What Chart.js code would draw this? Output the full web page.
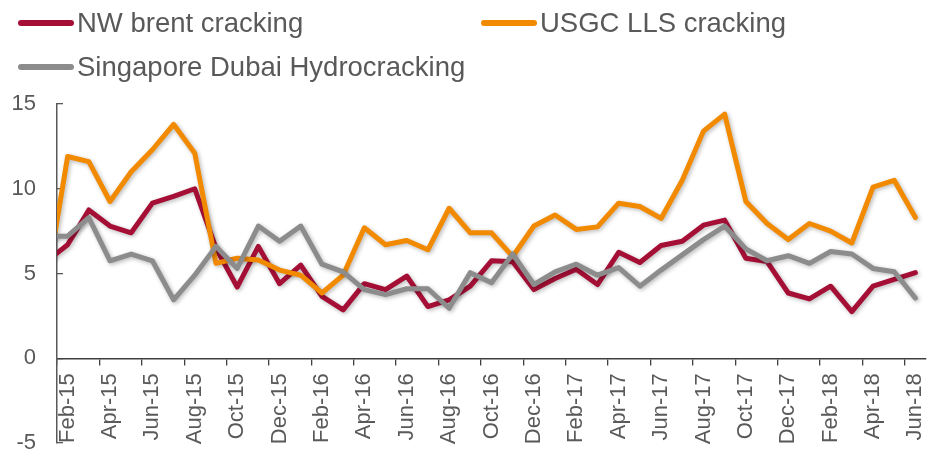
<!DOCTYPE html>
<html>
<head>
<meta charset="utf-8">
<script src="https://cdn.jsdelivr.net/npm/chart.js@4.4.1/dist/chart.umd.min.js"></script>
<style>
  body { margin: 0; background: #fff; }
  #wrap { position: relative; width: 932px; height: 456px; font-family: "Liberation Sans", Arial, sans-serif; }
  #grafico { position: absolute; left: 0; top: 0; }
  .ley-item { position: absolute; display: flex; align-items: center; color: #595959; font-size: 27.5px; white-space: nowrap; }
  .ley-barra { width: 56px; height: 6px; border-radius: 3px; margin-right: 3px; }
</style>
</head>
<body>
<div id="wrap">
  <canvas id="grafico" width="932" height="456"></canvas>
  <div id="leyenda"></div>
</div>
<script>
// meses (Jan-15 solo asoma recortado en el borde izquierdo)
const meses = ['Jan-15','Feb-15','Mar-15','Apr-15','May-15','Jun-15','Jul-15','Aug-15','Sep-15','Oct-15','Nov-15','Dec-15',
  'Jan-16','Feb-16','Mar-16','Apr-16','May-16','Jun-16','Jul-16','Aug-16','Sep-16','Oct-16','Nov-16','Dec-16',
  'Jan-17','Feb-17','Mar-17','Apr-17','May-17','Jun-17','Jul-17','Aug-17','Sep-17','Oct-17','Nov-17','Dec-17',
  'Jan-18','Feb-18','Mar-18','Apr-18','May-18','Jun-18'];

const nwBrent = [5.7, 6.7, 8.75, 7.8, 7.4, 9.15, 9.55, 10.0, 6.5, 4.2, 6.6, 4.4, 5.5, 3.65, 2.85, 4.4, 4.05, 4.85, 3.05, 3.45,
  4.25, 5.75, 5.7, 4.05, 4.7, 5.25, 4.35, 6.25, 5.65, 6.65, 6.9, 7.85, 8.15, 5.9, 5.7, 3.85, 3.5, 4.25, 2.75, 4.25, 4.65, 5.05];
const usgcLls = [4.3, 11.9, 11.6, 9.25, 11.0, 12.3, 13.8, 12.1, 5.6, 5.9, 5.8, 5.2, 4.9, 3.85, 4.9, 7.7, 6.7, 6.95, 6.4, 8.85,
  7.4, 7.4, 6.0, 7.8, 8.45, 7.6, 7.75, 9.15, 8.95, 8.25, 10.5, 13.4, 14.4, 9.25, 7.95, 7.0, 7.95, 7.5, 6.8, 10.1, 10.5, 8.3];
const singapur = [7.2, 7.2, 8.3, 5.75, 6.15, 5.75, 3.45, 4.9, 6.6, 5.3, 7.8, 6.9, 7.8, 5.55, 5.1, 4.05, 3.75, 4.1, 4.1, 2.95,
  5.05, 4.45, 6.15, 4.35, 5.1, 5.55, 4.9, 5.35, 4.25, 5.2, 6.1, 7.0, 7.8, 6.45, 5.75, 6.05, 5.6, 6.3, 6.15, 5.3, 5.1, 3.55];

const series = ['NW brent cracking', 'USGC LLS cracking', 'Singapore Dubai Hydrocracking'];
const colores = ['#A50F36', '#F28A00', '#8C8C8C'];
const ticksY = [-5, 0, 5, 10, 15];

// sombra suave como en excel
const sombra = {
  id: 'sombra',
  beforeDatasetDraw(chart) {
    const ctx = chart.ctx;
    ctx.save();
    ctx.shadowColor = 'rgba(0,0,0,0.28)';
    ctx.shadowBlur = 4;
    ctx.shadowOffsetX = 1.5;
    ctx.shadowOffsetY = 1.5;
  },
  afterDatasetDraw(chart) {
    chart.ctx.restore();
  }
};

const valores = [nwBrent, usgcLls, singapur];
const datasets = series.map((nombre, i) => ({
  label: nombre,
  data: valores[i],
  borderColor: colores[i],
  backgroundColor: colores[i],
  borderWidth: 5,
  pointRadius: 0,
  tension: 0,
  borderJoinStyle: 'round',
  borderCapStyle: 'round',
  clip: 0,
  order: 3 - i
}));

new Chart(document.getElementById('grafico'), {
  type: 'line',
  data: { labels: meses, datasets: datasets },
  plugins: [sombra],
  options: {
    responsive: false,
    devicePixelRatio: 1,
    animation: false,
    layout: { padding: { top: 104, left: 0, right: 6, bottom: 13 } },
    plugins: { legend: { display: false }, tooltip: { enabled: false } },
    scales: {
      x: {
        type: 'category',
        min: 'Feb-15',
        offset: true,
        position: { y: 0 },
        // el eje va en y=0 y no debe ocupar espacio
        afterFit: s => { s.height = 0; s.paddingLeft = 0; s.paddingRight = 0; s.paddingTop = 0; s.paddingBottom = 0; },
        grid: {
          offset: true,
          drawOnChartArea: false,
          drawTicks: true,
          tickLength: 6,
          lineWidth: 1.3,
          color: c => (c.index % 2 === 0 ? '#404040' : 'rgba(0,0,0,0)')
        },
        border: { display: true, color: '#404040', width: 1.5 },
        ticks: {
          autoSkip: false,
          minRotation: 90,
          maxRotation: 90,
          padding: 9,
          color: '#595959',
          font: { family: '"Liberation Sans", Arial, sans-serif', size: 22 },
          callback: function (v, i) { return i % 2 === 0 ? this.getLabelForValue(v) : ''; }
        }
      },
      y: {
        min: -5,
        max: 15,
        afterBuildTicks: s => { s.ticks = ticksY.map(v => ({ value: v })); },
        afterFit: s => { s.width = 57; s.paddingTop = 0; s.paddingBottom = 0; },
        grid: { drawOnChartArea: false, drawTicks: true, tickLength: -6, color: '#595959', lineWidth: 1.3 },
        border: { display: true, color: '#595959', width: 1.5 },
        ticks: {
          padding: 27,
          color: '#595959',
          font: { family: '"Liberation Sans", Arial, sans-serif', size: 22 }
        }
      }
    }
  }
});

// leyenda en html, posiciones como la original
const posLeyenda = [[18, 22.7], [481, 22.7], [18, 66.7]];
const ley = document.getElementById('leyenda');
series.forEach((nombre, i) => {
  const item = document.createElement('div');
  item.className = 'ley-item';
  item.style.left = posLeyenda[i][0] + 'px';
  item.style.top = (posLeyenda[i][1] - 17) + 'px';
  item.style.height = '34px';
  const barra = document.createElement('span');
  barra.className = 'ley-barra';
  barra.style.background = colores[i];
  const txt = document.createElement('span');
  txt.textContent = nombre;
  item.appendChild(barra);
  item.appendChild(txt);
  ley.appendChild(item);
});
</script>
</body>
</html>
